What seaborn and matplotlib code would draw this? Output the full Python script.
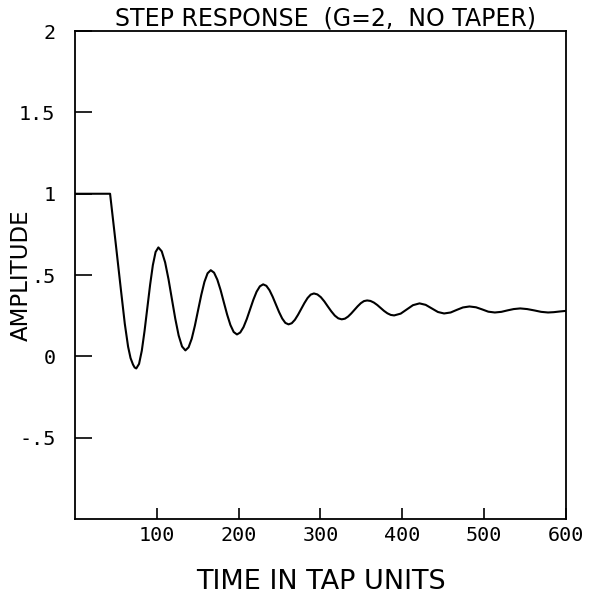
"""Step response plot (G=2, no taper)"""

import matplotlib
matplotlib.use("Agg")
import matplotlib.pyplot as plt
import pandas as pd
import seaborn as sns

# values
time_taps = [
    0, 43, 50, 56, 61, 65, 68, 71, 73, 75,
    78.4, 81.75, 85.1, 88.5, 91.9, 95.25, 98.6, 102,
    106.1, 110.25, 114.4, 118.5, 122.6, 126.75, 130.9, 135,
    138.9, 142.75, 146.6, 150.5, 154.4, 158.25, 162.1, 166,
    170, 174, 178, 182, 186, 190, 194, 198,
    202, 206, 210, 214, 218, 222, 226, 230,
    233.9, 237.75, 241.6, 245.5, 249.4, 253.25, 257.1, 261,
    264.9, 268.75, 272.6, 276.5, 280.4, 284.25, 288.1, 292,
    296.25, 300.5, 304.75, 309, 313.25, 317.5, 321.75, 326,
    329.9, 333.75, 337.6, 341.5, 345.4, 349.25, 353.1, 357,
    361.1, 365.25, 369.4, 373.5, 377.6, 381.75, 385.9, 390,
    398, 405.5, 413, 421,
    428.5, 436, 443.5, 451,
    459, 466.5, 474, 482,
    490, 497.5, 505, 513,
    521, 528.5, 536, 544,
    552.5, 561, 569.5, 578,
    585, 592, 600,
]
amplitude = [
    1.0, 1.0, 0.69, 0.42, 0.2, 0.06, -0.01, -0.05, -0.068, -0.074,
    -0.046, 0.035, 0.156, 0.298, 0.44, 0.561, 0.642, 0.67,
    0.646, 0.578, 0.474, 0.353, 0.233, 0.129, 0.061, 0.037,
    0.056, 0.109, 0.189, 0.284, 0.378, 0.458, 0.511, 0.53,
    0.515, 0.472, 0.408, 0.332, 0.257, 0.193, 0.15, 0.135,
    0.147, 0.18, 0.23, 0.289, 0.348, 0.398, 0.431, 0.443,
    0.434, 0.407, 0.367, 0.32, 0.273, 0.233, 0.206, 0.197,
    0.204, 0.225, 0.256, 0.292, 0.328, 0.359, 0.38, 0.387,
    0.381, 0.364, 0.338, 0.307, 0.277, 0.251, 0.234, 0.228,
    0.232, 0.245, 0.264, 0.286, 0.308, 0.327, 0.34, 0.344,
    0.341, 0.331, 0.316, 0.298, 0.28, 0.265, 0.255, 0.252,
    0.263, 0.289, 0.315, 0.326,
    0.317, 0.295, 0.273, 0.264,
    0.27, 0.286, 0.301, 0.307,
    0.302, 0.289, 0.275, 0.27,
    0.274, 0.283, 0.291, 0.295,
    0.291, 0.283, 0.274, 0.27,
    0.272, 0.276, 0.28,
]
x_ticks = [100, 200, 300, 400, 500, 600]
y_ticks = [-0.5, 0, 0.5, 1, 1.5, 2]
y_tick_labels = ["-.5", "0", ".5", "1", "1.5", "2"]


def main() -> None:
    """Draw the step response"""
    sns.set_style("ticks")
    plt.rcParams["font.family"] = ["DejaVu Sans"]
    plt.rcParams["text.color"] = "black"
    plt.rcParams["axes.labelcolor"] = "black"
    df = pd.DataFrame({"t": time_taps, "a": amplitude})

    fig = plt.figure(figsize=(5.99, 5.98), dpi=100)
    ax = fig.add_axes([0.125, 0.132, 0.820, 0.816])
    sns.lineplot(data=df, x="t", y="a", color="black", linewidth=1.5, ax=ax)

    ax.set_xlim(0, 600)
    ax.set_ylim(-1, 2)
    ax.set_xticks(x_ticks)
    ax.set_yticks(y_ticks)
    ax.set_yticklabels(y_tick_labels)
    ax.tick_params(axis="x", direction="in", length=8, width=1.2,
                   labelsize=14.5, pad=5, colors="black")
    ax.tick_params(axis="y", direction="in", length=12, width=1.2,
                   labelsize=14.5, pad=14, colors="black")
    for lbl in ax.get_xticklabels() + ax.get_yticklabels():
        lbl.set_family("DejaVu Sans Mono")
    for spine in ax.spines.values():
        spine.set_visible(True)
        spine.set_color("black")
        spine.set_linewidth(1.3)

    ax.set_title("STEP RESPONSE  (G=2,  NO TAPER)", fontsize=17, pad=4,
                 x=0.51)
    ax.set_xlabel("TIME IN TAP UNITS", fontsize=19.5)
    ax.set_ylabel("AMPLITUDE", fontsize=16.5)
    ax.xaxis.set_label_coords(0.5, -0.1025)
    ax.yaxis.set_label_coords(-0.085, 0.5)

    fig.savefig("out.png", dpi=100)


if __name__ == "__main__":
    main()
